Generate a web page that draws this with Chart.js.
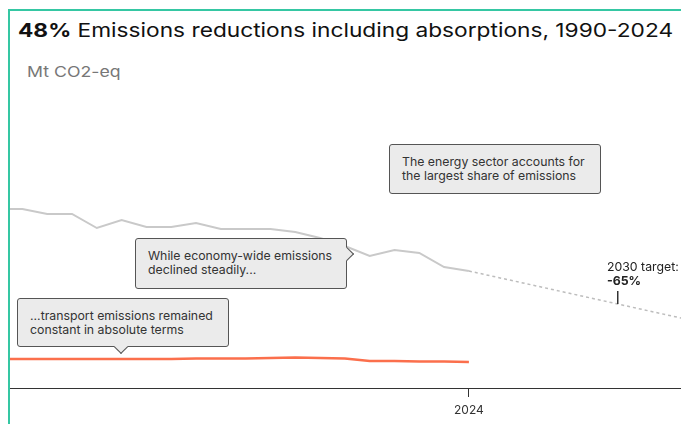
<!DOCTYPE html>
<html>
<head>
<meta charset="utf-8">
<script src="https://cdn.jsdelivr.net/npm/chart.js@4"></script>
<style>
  body { margin: 0; background: #fff; font-family: Inter, "Noto Sans", sans-serif; }
  #wrap { position: relative; width: 681px; height: 424px; overflow: hidden; }
  #frame { position: absolute; left: 8px; top: 9px; right: 0; bottom: 0;
           border-top: 2px solid #35c7a3; border-left: 2px solid #35c7a3; }
  #title { position: absolute; left: 18px; top: 19px; font-size: 19px; color: #111; white-space: nowrap;
           transform: scaleX(1.195); transform-origin: left center; }
  #title b { font-weight: 700; }
  #unit { position: absolute; left: 27px; top: 62px; font-size: 15px; color: #777;
          transform: scaleX(1.18); transform-origin: left center; }
  canvas { position: absolute; left: 0; top: 0; }
  .note { position: absolute; background: #ebebeb; border: 1px solid #555; border-radius: 3px;
          font-size: 12.3px; line-height: 14px; color: #333; padding: 10px 12px; box-sizing: border-box; }
  .note.down::after { content: ""; position: absolute; left: 98px; bottom: -6px; width: 9px; height: 9px;
          background: #ebebeb; border-right: 1px solid #555; border-bottom: 1px solid #555; transform: rotate(45deg); }
  .note.right::after { content: ""; position: absolute; right: -6px; top: 10px; width: 9px; height: 9px;
          background: #ebebeb; border-right: 1px solid #555; border-top: 1px solid #555; transform: rotate(45deg); }
  #target { position: absolute; left: 607px; top: 260px; font-size: 12.3px; line-height: 14px; color: #222; }
</style>
</head>
<body>
<div id="wrap">
  <div id="frame"></div>
  <div id="title"><b>48%</b> Emissions reductions including absorptions, 1990-2024</div>
  <div id="unit">Mt CO2-eq</div>
  <canvas id="chart" width="681" height="424"></canvas>
  <div class="note" style="left:389px; top:144px; width:212px; height:50px;">The energy sector accounts for<br>the largest share of emissions</div>
  <div class="note right" style="left:135px; top:238px; width:212px; height:51px;">While economy-wide emissions<br>declined steadily...</div>
  <div class="note down" style="left:17px; top:298px; width:212px; height:49px;">...transport emissions remained<br>constant in absolute terms</div>
  <div id="target">2030 target:<br><b>-65%</b></div>
</div>
<script>
const years = [2005, 2006, 2007, 2008, 2009, 2010, 2011, 2012, 2013, 2014,
               2015, 2016, 2017, 2018, 2019, 2020, 2021, 2022, 2023, 2024];
const totalEmissions = [358, 358, 348, 348, 320, 336, 322, 322, 330, 318,
                        318, 318, 312, 300, 284, 264, 276, 270, 242, 234];
const transportEmissions = [58, 58, 58, 58, 58, 58, 58, 58, 59, 59,
                            59, 60, 61, 60, 59, 54, 54, 53, 53, 52];
const targetYears = [2024, 2030, 2034];
const targetPath = [234, 168, 124];
const tickYears = [2024];
const targetYear = 2030;

const toPoints = (xs, ys) => xs.map((x, i) => ({ x: x, y: ys[i] }));

// small tick under the 2030 label
const targetMark = {
    id: 'targetMark',
    afterDatasetsDraw(chart) {
        const ctx = chart.ctx;
        const x = chart.scales.x.getPixelForValue(targetYear);
        const y = chart.scales.y.getPixelForValue(targetPath[1]);
        ctx.save();
        ctx.strokeStyle = '#333';
        ctx.lineWidth = 1.5;
        ctx.beginPath();
        ctx.moveTo(x, y - 13);
        ctx.lineTo(x, y);
        ctx.stroke();
        ctx.restore();
    }
};

new Chart(document.getElementById('chart'), {
    type: 'line',
    data: {
        datasets: [
            {
                label: 'Total',
                data: toPoints(years, totalEmissions),
                borderColor: '#c9c9c9',
                borderWidth: 2,
                pointRadius: 0,
                tension: 0
            },
            {
                label: 'Target path',
                data: toPoints(targetYears, targetPath),
                borderColor: '#bdbdbd',
                borderWidth: 1.5,
                borderDash: [3, 3],
                pointRadius: 0
            },
            {
                label: 'Transport',
                data: toPoints(years, transportEmissions),
                borderColor: '#fb6f4c',
                borderWidth: 2.5,
                pointRadius: 0,
                tension: 0
            }
        ]
    },
    options: {
        responsive: false,
        animation: false,
        layout: { padding: { left: 10, top: 100, right: 0, bottom: 0 } },
        plugins: { legend: { display: false }, tooltip: { enabled: false } },
        scales: {
            x: {
                type: 'linear',
                min: 2005.5,
                max: 2032.55,
                afterBuildTicks: axis => { axis.ticks = tickYears.map(v => ({ value: v })); },
                afterFit: axis => { axis.height = 36; },
                ticks: {
                    color: '#333',
                    font: { family: 'Inter', size: 12 },
                    padding: 6,
                    callback: v => String(v)
                },
                grid: { drawOnChartArea: false, tickLength: 9, color: '#333' },
                border: { color: '#333', width: 1 }
            },
            y: {
                display: false,
                min: 0,
                max: 576
            }
        }
    },
    plugins: [targetMark]
});
</script>
</body>
</html>
